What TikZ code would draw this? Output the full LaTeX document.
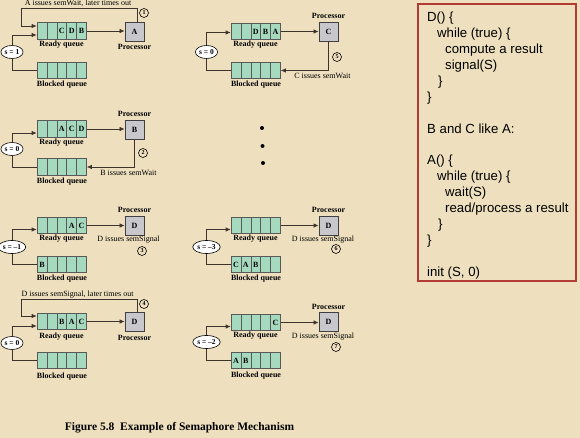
\documentclass[tikz,border=0pt]{standalone}
\usepackage{fontspec}
\setmainfont{Liberation Serif}
\newfontfamily\codefont{Liberation Sans}
\usetikzlibrary{arrows.meta,shapes.geometric}

\definecolor{parchment}{RGB}{238,224,190}
\definecolor{qgreen}{RGB}{166,218,190}
\definecolor{procgray}{RGB}{200,200,204}
\definecolor{wire}{RGB}{60,52,45}
\definecolor{boxred}{RGB}{178,60,52}

\tikzset{
  qcell/.style={rectangle, draw=black!65, line width=0.6pt, fill=qgreen,
    minimum width=9.9pt, minimum height=16.5pt, inner sep=0pt,
    font=\bfseries\fontsize{8}{8}\selectfont},
  proc/.style={rectangle, draw=black!75, line width=0.8pt, fill=procgray,
    minimum size=19pt, inner sep=0pt, font=\bfseries\fontsize{8}{8}\selectfont},
  sem/.style={ellipse, draw=black, line width=0.6pt, fill=white,
    minimum width=22pt, minimum height=13pt, inner sep=0.5pt,
    font=\bfseries\fontsize{7.5}{7.5}\selectfont},
  num/.style={circle, draw=black, line width=0.6pt, minimum size=9pt,
    inner sep=0pt, font=\bfseries\fontsize{6}{6}\selectfont},
  lbl/.style={inner sep=0pt, font=\bfseries\fontsize{8}{8}\selectfont},
  note/.style={inner sep=0pt, font=\fontsize{8}{8}\selectfont},
  wire/.style={draw=wire, line width=0.7pt},
  arr/.style={wire, -{Latex[length=5pt,width=4.5pt]}},
  codebox/.style={rectangle, draw=boxred, line width=1.1pt},
  code/.style={anchor=base west, inner sep=0pt,
    font=\codefont\fontsize{13.2}{15.9}\selectfont},
}

% a row of five queue cells: name, left x, centre y, entries
\newcommand\qrow[4]{%
  \foreach \t [count=\i] in {#4} {
    \node[qcell] (#1-\i) at ({#2+(\i-0.5)*9.9},#3) {\t};
  }%
}

\begin{document}
\begin{tikzpicture}[x=1pt,y=-1pt]
\fill[parchment] (0,0) rectangle (580,438);
\useasboundingbox (0,0) rectangle (580,438);

% ---------- step 1 ----------
\qrow{r1}{37}{31}{{},{},C,D,B}
\qrow{b1}{37}{70.5}{{},{},{},{},{}}
\node[proc] (p1) at (134.5,31.5) {A};
\node[sem] (s1) at (12,52) {s = 1};
\node[lbl] (lr1) at (61.5,45) {Ready queue};
\node[lbl] (lb1) at (62,85) {Blocked queue};
\node[lbl] (lp1) at (134.5,47) {Processor};
\node[note] (t1) at (78,3.5) {A issues semWait, later times out};
\node[num] (n1) at (144,13) {1};
\coordinate (f1) at (21,8);
\draw[arr] (r1-5.east) -- (r1-5.east -| p1.west);
\draw[arr] ([xshift=2.5pt]p1.north) |- (f1) |- ([yshift=5pt]r1-1.west);
\draw[arr] (s1.north) |- ([yshift=-4pt]r1-1.west);
\draw[wire] (s1.south) |- (b1-1.west);

% ---------- step 5 ----------
\qrow{r2}{231}{31.5}{{},{},D,B,A}
\qrow{b2}{231}{70.5}{{},{},{},{},{}}
\node[proc] (p2) at (328.5,31.5) {C};
\node[sem] (s2) at (206.5,52) {s = 0};
\node[lbl] (lr2) at (255.5,45) {Ready queue};
\node[lbl] (lb2) at (256,85) {Blocked queue};
\node[lbl] (lp2) at (328.5,16) {Processor};
\node[note] (t2) at (322.5,76) {C issues semWait};
\node[num] (n5) at (337,57) {5};
\draw[arr] (r2-5.east) -- (r2-5.east -| p2.west);
\draw[arr] (p2.south) |- (b2-5.east);
\draw[arr] (s2.north) |- ([yshift=-1pt]r2-1.west);
\draw[wire] (s2.south) |- (b2-1.west);

% ---------- step 2 ----------
\qrow{r3}{37}{129}{{},{},A,C,D}
\qrow{b3}{37}{167}{{},{},{},{},{}}
\node[proc] (p3) at (134.5,129.5) {B};
\node[sem] (s3) at (12,149) {s = 0};
\node[lbl] (lr3) at (61.5,143) {Ready queue};
\node[lbl] (lb3) at (62,182) {Blocked queue};
\node[lbl] (lp3) at (134.5,114) {Processor};
\node[note] (t3) at (128.5,173) {B issues semWait};
\node[num] (n2) at (143,153) {2};
\draw[arr] (r3-5.east) -- (r3-5.east -| p3.west);
\draw[arr] (p3.south) |- (b3-5.east);
\draw[arr] (s3.north) |- ([yshift=-4pt]r3-1.west);
\draw[wire] (s3.south) |- (b3-1.west);

% ---------- step 3 ----------
\qrow{r4}{37}{225.5}{{},{},{},A,C}
\qrow{b4}{37}{264.5}{B,{},{},{},{}}
\node[proc] (p4) at (134.5,226) {D};
\node[sem] (s4) at (12,247) {s = --1};
\node[lbl] (lr4) at (61.5,239) {Ready queue};
\node[lbl] (lb4) at (62,279) {Blocked queue};
\node[lbl] (lp4) at (134.5,210) {Processor};
\node[note] (t4) at (128.5,240) {D issues semSignal};
\node[num] (n3) at (142,251) {3};
\draw[arr] (r4-5.east) -- (r4-5.east -| p4.west);
\draw[arr] (s4.north) |- ([yshift=-4pt]r4-1.west);
\draw[wire] (s4.south) |- (b4-1.west);

% ---------- step 6 ----------
\qrow{r5}{231}{225.5}{{},{},{},{},{}}
\qrow{b5}{231}{264.5}{C,A,B,{},{}}
\node[proc] (p5) at (328.5,226) {D};
\node[sem] (s5) at (206.5,247) {s = --3};
\node[lbl] (lr5) at (255.5,239) {Ready queue};
\node[lbl] (lb5) at (256,279) {Blocked queue};
\node[lbl] (lp5) at (328.5,210) {Processor};
\node[note] (t5) at (323,240) {D issues semSignal};
\node[num] (n6) at (336,249) {6};
\draw[arr] (r5-5.east) -- (r5-5.east -| p5.west);
\draw[arr] (s5.north) |- ([yshift=-4pt]r5-1.west);
\draw[wire] (s5.south) |- (b5-1.west);

% ---------- step 4 ----------
\qrow{r6}{37}{321.5}{{},{},B,A,C}
\qrow{b6}{37}{360.5}{{},{},{},{},{}}
\node[proc] (p6) at (134.5,322) {D};
\node[sem] (s6) at (12,343) {s = 0};
\node[lbl] (lr6) at (61.5,337) {Ready queue};
\node[lbl] (lb6) at (62,377) {Blocked queue};
\node[lbl] (lp6) at (134.5,338) {Processor};
\node[note] (t6) at (77.5,295) {D issues semSignal, later times out};
\node[num] (n4) at (144,304) {4};
\coordinate (f6) at (21,299.5);
\draw[arr] (r6-5.east) -- (r6-5.east -| p6.west);
\draw[arr] ([xshift=2.5pt]p6.north) |- (f6) |- ([yshift=5.5pt]r6-1.west);
\draw[arr] (s6.north) |- ([yshift=-4.5pt]r6-1.west);
\draw[wire] (s6.south) |- (b6-1.west);

% ---------- step 7 ----------
\qrow{r7}{231}{322.5}{{},{},{},{},C}
\qrow{b7}{231}{360.5}{A,B,{},{},{}}
\node[proc] (p7) at (328.5,322) {D};
\node[sem] (s7) at (206.5,342) {s = --2};
\node[lbl] (lr7) at (255.5,336) {Ready queue};
\node[lbl] (lb7) at (256,376) {Blocked queue};
\node[lbl] (lp7) at (328.5,307) {Processor};
\node[note] (t7) at (323,337) {D issues semSignal};
\node[num] (n7) at (336,347) {7};
\draw[arr] (r7-5.east) -- (r7-5.east -| p7.west);
\draw[arr] (s7.north) |- ([yshift=-4pt]r7-1.west);
\draw[wire] (s7.south) |- (b7-1.west);

% vertical ellipsis between the columns
\fill (262,128) circle[radius=2pt];
\fill (262.5,146) circle[radius=2pt];
\fill (263,163) circle[radius=2pt];

% caption
\node[inner sep=0pt, font=\bfseries\fontsize{11.5}{11.5}\selectfont] (cap) at (179.5,428)
  {Figure 5.8\ \ Example of Semaphore Mechanism};

% ---------- pseudo-code panel ----------
\node[codebox, minimum width=158pt, minimum height=277pt] (codepanel) at (497,142.5) {};
\node[code] (c0)  at (427,21.5)  {D() \{};
\node[code] (c1)  at (437,37.4)  {while (true) \{};
\node[code] (c2)  at (445,53.4)  {compute a result};
\node[code] (c3)  at (445,69.3)  {signal(S)};
\node[code] (c4)  at (438,85.3)  {\}};
\node[code] (c5)  at (427,101.2) {\}};
\node[code] (c7)  at (427,133.1) {B and C like A:};
\node[code] (c9)  at (427,165.0) {A() \{};
\node[code] (c10) at (437,180.9) {while (true) \{};
\node[code] (c11) at (445,196.8) {wait(S)};
\node[code] (c12) at (445,212.8) {read/process a result};
\node[code] (c13) at (438,228.7) {\}};
\node[code] (c14) at (427,244.7) {\}};
\node[code] (c16) at (427,276.5) {init (S, 0)};
\end{tikzpicture}
\end{document}
